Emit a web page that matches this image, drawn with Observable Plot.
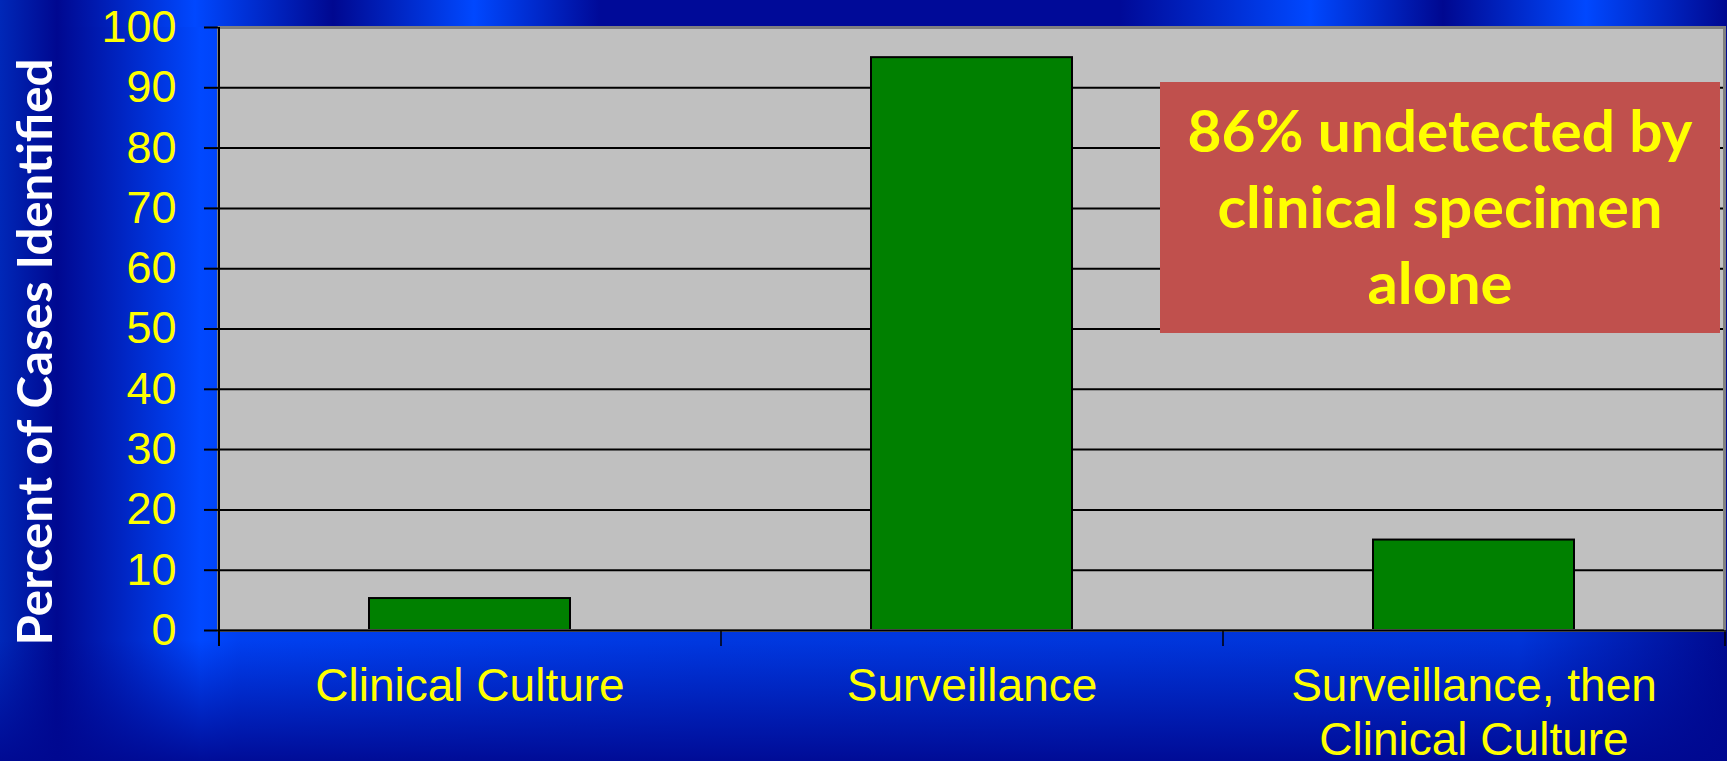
<!DOCTYPE html>
<html>
<head>
<meta charset="utf-8">
<script src="https://cdn.jsdelivr.net/npm/d3@7"></script>
<script src="https://cdn.jsdelivr.net/npm/@observablehq/plot@0.6"></script>
<style>
  html, body { margin: 0; padding: 0; }
  body {
    width: 1727px; height: 761px; overflow: hidden;
    background:
      linear-gradient(to right, #0028b8 0px, #000890 57px, #0048ff 195px, #000890 333px, #0048ff 474px, #000a98 600px, #000a98 1120px, #0048ff 1310px, #000890 1443px, #0048ff 1586px, #000890 1727px) 0 0 / 100% 27px no-repeat,
      linear-gradient(to bottom, rgba(0,8,144,0) 640px, rgba(0,8,144,0.92) 761px),
      linear-gradient(to right, #0028b8 0px, #000890 57px, #0048ff 200px, #0040f0 240px, #0038e0 700px, #0034d8 1520px, #000a90 1727px);
  }
  #chart { position: absolute; left: 0; top: 0; }
</style>
</head>
<body>
<div id="chart"></div>
<script>
// ---- data ----
const categories = ["Clinical Culture", "Surveillance", "Surveillance, then Clinical Culture"];
const tickLabels = ["Clinical Culture", "Surveillance", "Surveillance, then\nClinical Culture"];
const values = [5.3, 95, 15];
const yTicks = [0, 10, 20, 30, 40, 50, 60, 70, 80, 90, 100];
const yTitle = "Percent of Cases Identified";
const calloutLines = ["86% undetected by", "clinical specimen", "alone"];

const data = categories.map((c, i) => ({category: c, value: values[i]}));

// ---- layout ----
const W = 1727, H = 761;
const mL = 218, mR = 3, mT = 27, mB = 131;
const half = (W - mL - mR) / categories.length / 2;
const YELLOW = "#ffff00";

const chart = Plot.plot({
  width: W, height: H,
  marginTop: mT, marginRight: mR, marginBottom: mB, marginLeft: mL,
  style: {background: "transparent", fontFamily: "'Liberation Sans', Arial, sans-serif", overflow: "visible"},
  x: {domain: categories, paddingInner: 0.6, paddingOuter: 0.3, axis: null},
  y: {domain: [0, 100], axis: null},
  marks: [
    Plot.frame({fill: "#c0c0c0"}),
    Plot.ruleY(yTicks.filter(t => t > 0 && t < 100), {stroke: "#000", strokeWidth: 2}),
    Plot.barY(data, {x: "category", y: "value", fill: "#008000", stroke: "#000", strokeWidth: 2}),
    Plot.frame({stroke: "#808080", strokeWidth: 3}),
    Plot.ruleY([0], {stroke: "#000", strokeWidth: 2}),
    Plot.ruleX([categories[0]], {y1: 100, y2: 0, dx: -half, insetBottom: -16, stroke: "#000", strokeWidth: 2}),
    Plot.ruleX(categories.slice(1), {y1: 0, y2: 0, dx: -half, insetBottom: -16, stroke: "#000", strokeWidth: 1.5}),
    Plot.ruleX([categories[categories.length - 1]], {y1: 0, y2: 0, dx: half, insetBottom: -16, stroke: "#000", strokeWidth: 1.5}),
    Plot.axisY({ticks: yTicks, tickSize: 14, tickPadding: 28, stroke: "#000", strokeWidth: 2, fill: YELLOW, fontSize: 45, label: null}),
    Plot.axisX({
      tickSize: 0, tickPadding: 33,
      tickFormat: d => tickLabels[categories.indexOf(d)],
      fill: YELLOW, fontSize: 46, lineHeight: 1.16, label: null
    })
  ]
});

document.getElementById("chart").appendChild(chart);

// ---- y title and callout ----
const svg = d3.select(chart);
svg.append("text")
  .attr("transform", "translate(52,352) rotate(-90)")
  .attr("text-anchor", "middle")
  .attr("fill", "#ffffff")
  .attr("font-family", "Lato, 'Open Sans', sans-serif")
  .attr("font-weight", "bold")
  .attr("font-size", 47)
  .attr("textLength", 587)
  .attr("lengthAdjust", "spacingAndGlyphs")
  .text(yTitle);

const box = svg.append("g");
box.append("rect")
  .attr("x", 1160).attr("y", 82).attr("width", 560).attr("height", 251)
  .attr("fill", "#c0504d");
const lineWidths = [505, 445, 145];
calloutLines.forEach((t, i) => {
  box.append("text")
    .attr("x", 1440).attr("y", 152 + i * 76)
    .attr("text-anchor", "middle")
    .attr("fill", YELLOW)
    .attr("font-family", "Lato, 'Open Sans', sans-serif")
    .attr("font-weight", "bold")
    .attr("font-size", 58)
    .attr("textLength", lineWidths[i])
    .attr("lengthAdjust", "spacingAndGlyphs")
    .text(t);
});
</script>
</body>
</html>
